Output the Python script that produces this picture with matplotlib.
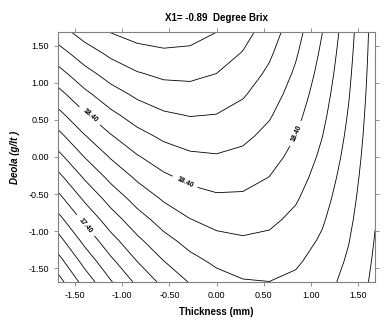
import matplotlib
matplotlib.use('Agg')
import matplotlib.pyplot as plt

plt.rcParams['font.family'] = ['Liberation Sans', 'DejaVu Sans']

# coded factor grid (13 x 13 over the +/-1.682 design space)
thickness = [-1.682, -1.402, -1.121, -0.841, -0.561, -0.280, 0.0,
             0.280, 0.561, 0.841, 1.121, 1.402, 1.682]
deola = [-1.682, -1.402, -1.121, -0.841, -0.561, -0.280, 0.0,
         0.280, 0.561, 0.841, 1.121, 1.402, 1.682]

# predicted degree brix, one row per deola value (bottom to top)
brix = [
    [16.518, 16.876, 17.184, 17.443, 17.653, 17.813, 17.924, 17.986, 17.998, 17.961, 17.875, 17.739, 17.554],
    [16.724, 17.066, 17.359, 17.603, 17.797, 17.942, 18.037, 18.083, 18.080, 18.027, 17.925, 17.774, 17.573],
    [16.929, 17.256, 17.533, 17.761, 17.940, 18.069, 18.149, 18.179, 18.161, 18.092, 17.975, 17.808, 17.592],
    [17.133, 17.444, 17.706, 17.918, 18.081, 18.195, 18.259, 18.274, 18.240, 18.156, 18.023, 17.841, 17.609],
    [17.336, 17.631, 17.877, 18.074, 18.222, 18.320, 18.369, 18.368, 18.318, 18.219, 18.070, 17.872, 17.625],
    [17.537, 17.817, 18.048, 18.229, 18.361, 18.444, 18.477, 18.461, 18.395, 18.280, 18.116, 17.902, 17.640],
    [17.738, 18.002, 18.217, 18.383, 18.499, 18.566, 18.584, 18.552, 18.471, 18.340, 18.161, 17.932, 17.653],
    [17.937, 18.185, 18.385, 18.535, 18.636, 18.687, 18.689, 18.642, 18.546, 18.399, 18.204, 17.960, 17.666],
    [18.135, 18.368, 18.552, 18.686, 18.772, 18.807, 18.794, 18.731, 18.619, 18.457, 18.247, 17.986, 17.677],
    [18.331, 18.549, 18.717, 18.836, 18.906, 18.926, 18.897, 18.819, 18.691, 18.514, 18.288, 18.012, 17.687],
    [18.527, 18.729, 18.882, 18.985, 19.039, 19.044, 18.999, 18.906, 18.762, 18.570, 18.328, 18.036, 17.695],
    [18.721, 18.908, 19.045, 19.133, 19.171, 19.161, 19.100, 18.991, 18.832, 18.624, 18.366, 18.059, 17.703],
    [18.914, 19.085, 19.207, 19.279, 19.302, 19.276, 19.201, 19.075, 18.901, 18.677, 18.404, 18.081, 17.709],
]

levels = [16.6, 16.8, 17.0, 17.2, 17.4, 17.6, 17.8, 18.0, 18.2, 18.4,
          18.6, 18.8, 19.0, 19.2]
label_spots = [(-1.32, 0.59), (-0.33, -0.33), (0.74, 0.36), (-1.38, -0.91)]

fig = plt.figure(figsize=(3.91, 3.21), dpi=100)
ax = fig.add_axes([58/391, 39/321, 317/391, 250/321])

cs = ax.contour(thickness, deola, brix, levels=levels, colors='black', linewidths=0.6)
lbls = ax.clabel(cs, fmt='%.2f', fontsize=5, manual=label_spots)
for l in lbls:
    l.set_fontweight('bold')

ax.set_xlim(-1.682, 1.682)
ax.set_ylim(-1.682, 1.682)
ticks = [-1.5, -1.0, -0.5, 0.0, 0.5, 1.0, 1.5]
ax.set_xticks(ticks)
ax.set_yticks(ticks)
ax.set_xticklabels(['%.2f' % v for v in ticks])
ax.set_yticklabels(['%.2f' % v for v in ticks])
ax.tick_params(direction='out', length=3, width=0.6, labelsize=6.5, color='#808080',
               top=True, right=True)
for s in ax.spines.values():
    s.set_color('#808080')
    s.set_linewidth(0.8)

ax.set_title('X1= -0.89  Degree Brix', fontsize=7, fontweight='bold', pad=8)
ax.set_xlabel('Thickness (mm)', fontsize=7, fontweight='bold', labelpad=5)
ax.set_ylabel('Deola (g/lt )', fontsize=7, fontweight='bold', style='italic', labelpad=6)

fig.savefig('out.png', dpi=100)
